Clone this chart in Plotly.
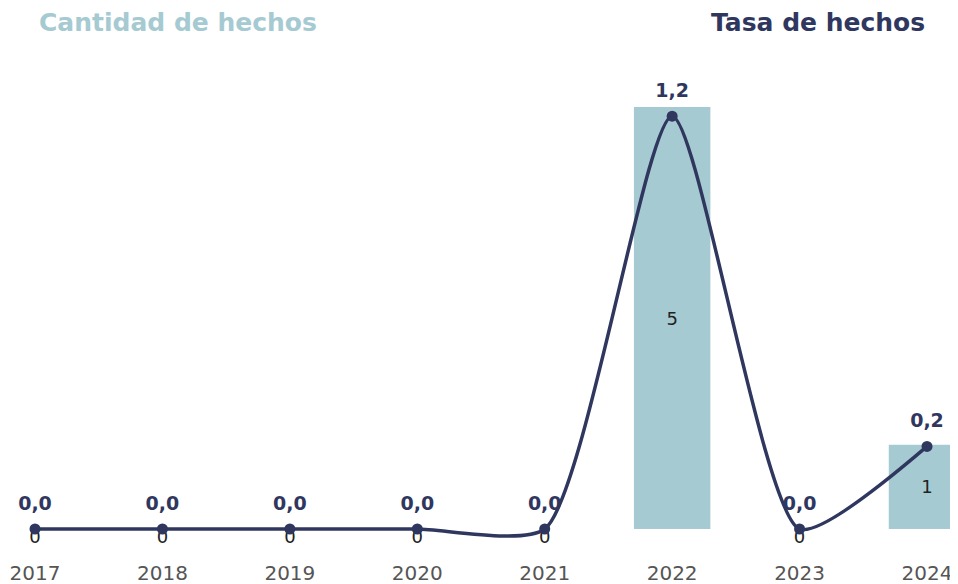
import plotly.graph_objects as go

years = [2017, 2018, 2019, 2020, 2021, 2022, 2023, 2024]
cantidad = [0, 0, 0, 0, 0, 5, 0, 1]
tasa = [0.0, 0.0, 0.0, 0.0, 0.0, 1.2, 0.0, 0.24]

TEAL = "#a6cad2"
NAVY = "#30375f"
FONT = "DejaVu Sans"

fig = go.Figure()

# bars (cantidad) on left axis
fig.add_trace(go.Bar(
    x=years, y=cantidad, width=0.6, marker=dict(color=TEAL, line_width=0),
    text=[str(v) if v else "" for v in cantidad],
    textposition="inside", insidetextanchor="middle",
    textfont=dict(family=FONT, size=18, color="#222"),
    hoverinfo="skip",
))
# labels for zero-height bars
zeros = [y for y, v in zip(years, cantidad) if v == 0]
fig.add_trace(go.Scatter(
    x=zeros, y=[0] * len(zeros), mode="text", text=["0"] * len(zeros),
    textposition="bottom center", textfont=dict(family=FONT, size=18, color="#222"),
    cliponaxis=False, hoverinfo="skip",
))

# line (tasa) on right axis
fig.add_trace(go.Scatter(
    x=years, y=tasa, yaxis="y2", mode="lines+markers",
    line=dict(color=NAVY, width=3.5, shape="spline", smoothing=0.6),
    marker=dict(color=NAVY, size=11),
    cliponaxis=False,
))
# rate labels (invisible larger markers push text up)
fig.add_trace(go.Scatter(
    x=years, y=tasa, yaxis="y2", mode="markers+text",
    marker=dict(size=22, opacity=0),
    text=[f"{v:.1f}".replace(".", ",") for v in tasa],
    textposition="top center",
    textfont=dict(family=FONT, size=19, color=NAVY, weight="bold"),
    cliponaxis=False, hoverinfo="skip",
))

fig.add_annotation(text="<b>Cantidad de hechos</b>", xref="paper", yref="paper",
                   x=29 / 958, y=1.0, yshift=58, xanchor="left", yanchor="middle", showarrow=False,
                   font=dict(family=FONT, size=25, color=TEAL))
fig.add_annotation(text="<b>Tasa de hechos</b>", xref="paper", yref="paper",
                   x=919 / 958, y=1.0, yshift=58, xanchor="right", yanchor="middle", showarrow=False,
                   font=dict(family=FONT, size=25, color=NAVY))

fig.update_layout(
    width=958, height=576,
    margin=dict(l=0, r=0, t=72, b=25),
    plot_bgcolor="white", paper_bgcolor="white",
    showlegend=False,
    xaxis=dict(range=[2016.788, 2024.306], tickvals=years, ticktext=[str(y) for y in years],
               showgrid=False, zeroline=False, showline=False, ticks="",
               tickfont=dict(family=FONT, size=20, color="#555")),
    yaxis=dict(range=[-0.355, 5.32], visible=False, showgrid=False),
    yaxis2=dict(range=[-0.0872, 1.305], overlaying="y", side="right", visible=False, showgrid=False),
)

fig.write_html("out.html")
